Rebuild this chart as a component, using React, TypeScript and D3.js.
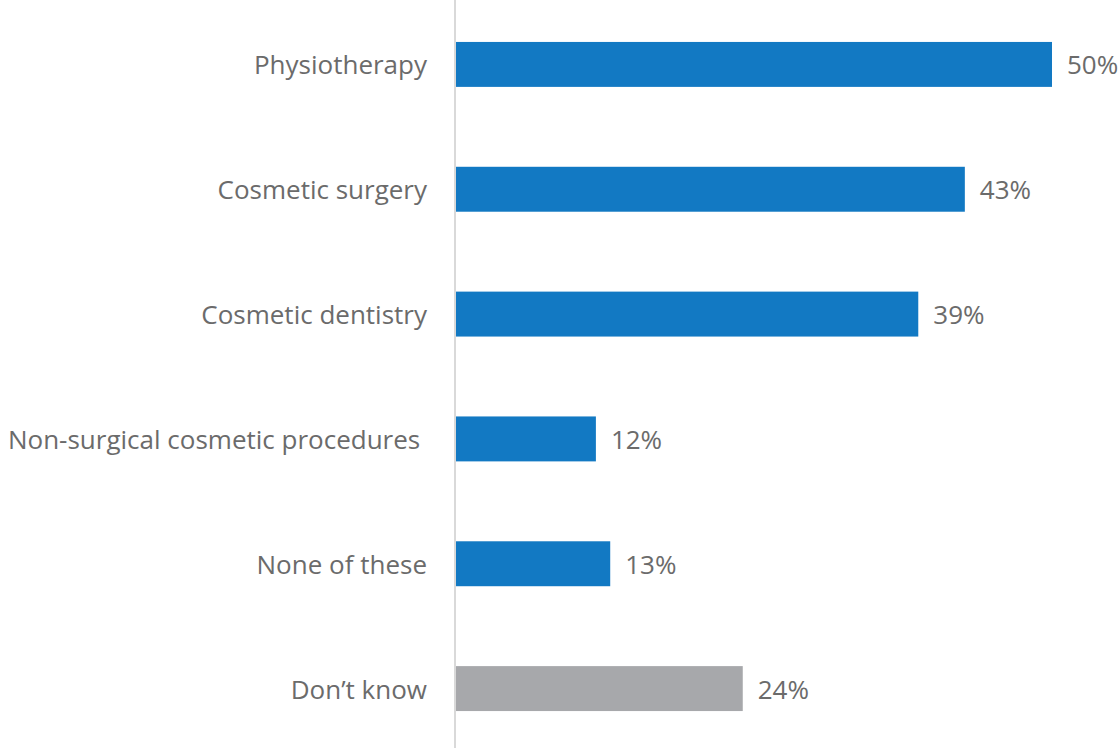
import React from "react";
import * as d3 from "d3";

const categories = [
  "Physiotherapy",
  "Cosmetic surgery",
  "Cosmetic dentistry",
  "Non-surgical cosmetic procedures ",
  "None of these",
  "Don\u2019t know",
];
const values = [50, 42.7, 38.8, 11.8, 13, 24.1];
const valueLabels = ["50%", "43%", "39%", "12%", "13%", "24%"];
const barColors = ["#1279C3", "#1279C3", "#1279C3", "#1279C3", "#1279C3", "#A7A8AB"];

const W = 1120;
const H = 748;
const axisX = 455;

export default function App() {
  const x = d3.scaleLinear().domain([0, 50]).range([axisX, 1052]);
  const y = d3
    .scaleBand<string>()
    .domain(categories)
    .range([2, 751])
    .paddingInner(0.64)
    .paddingOuter(0.32);

  return (
    <svg
      width={W}
      height={H}
      style={{ position: "absolute", left: 0, top: 0, background: "#fff" }}
      fontFamily="'Open Sans', sans-serif"
    >
      {categories.map((c, i) => {
        const yy = y(c)!;
        const bh = y.bandwidth();
        return (
          <g key={c}>
            <rect x={x(0)} y={yy} width={x(values[i]) - x(0)} height={bh} fill={barColors[i]} />
            <text
              x={axisX - 28}
              y={yy + bh / 2}
              textAnchor="end"
              dominantBaseline="central"
              fontSize={26}
              fill="#6B6B6B"
              style={{ whiteSpace: "pre" }}
            >
              {c}
            </text>
            <text
              x={x(values[i]) + 15}
              y={yy + bh / 2}
              dominantBaseline="central"
              fontSize={26}
              fill="#6B6B6B"
            >
              {valueLabels[i]}
            </text>
          </g>
        );
      })}
      <line x1={axisX} x2={axisX} y1={0} y2={H} stroke="#D9D9D9" strokeWidth={2} />
    </svg>
  );
}
